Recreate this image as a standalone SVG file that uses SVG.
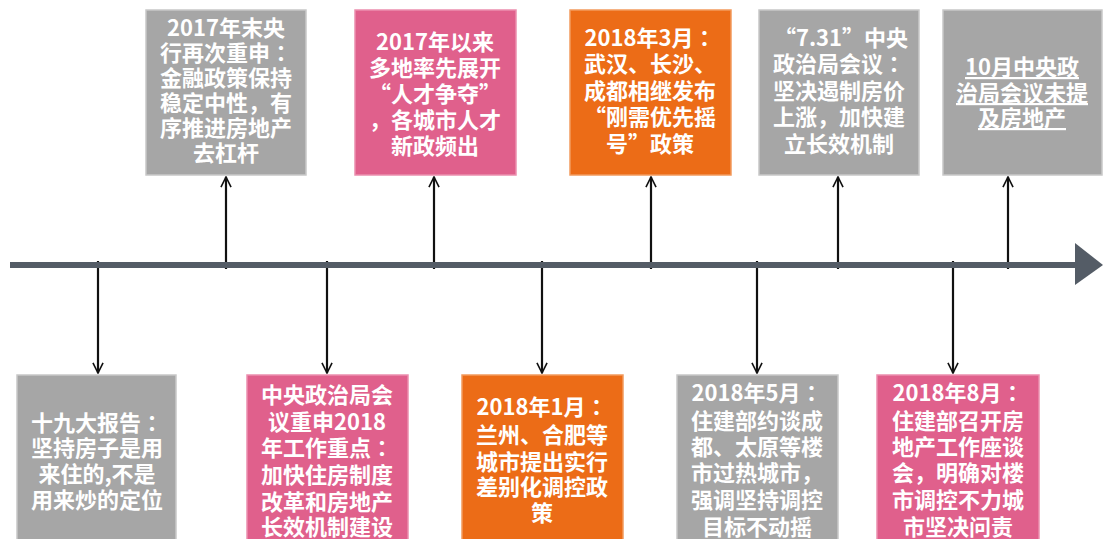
<svg xmlns="http://www.w3.org/2000/svg" width="1112" height="539" viewBox="0 0 1112 539">
<defs>
<style>
.box{stroke-width:1.5}
.gray{fill:#a6a6a6;stroke:#c8c8c8}
.pink{fill:#e0608c;stroke:#eb8fae}
.orange{fill:#ec6c17;stroke:#f29a5e}
.t{font-family:"Noto Sans CJK SC","Noto Sans",sans-serif;font-weight:bold;font-size:22px;fill:#ffffff;text-anchor:middle}
.c{font-family:"Noto Sans CJK TC","Noto Sans CJK SC",sans-serif}
.u{text-decoration:underline}
.conn{stroke:#111;stroke-width:2.2;fill:none}
</style>
<marker id="ah" viewBox="0 0 12 12" refX="11" refY="6" markerWidth="5.5" markerHeight="5.5" orient="auto" markerUnits="strokeWidth">
<path d="M1,1 L11,6 L1,11" fill="none" stroke="#111" stroke-width="1.6"/>
</marker>
</defs>
<rect width="1112" height="539" fill="#ffffff"/>

<g id="connectors">
<line class="conn" x1="226" y1="269" x2="226" y2="177" marker-end="url(#ah)"/>
<line class="conn" x1="434" y1="269" x2="434" y2="177" marker-end="url(#ah)"/>
<line class="conn" x1="651" y1="269" x2="651" y2="177" marker-end="url(#ah)"/>
<line class="conn" x1="838" y1="269" x2="838" y2="177" marker-end="url(#ah)"/>
<line class="conn" x1="1008" y1="269" x2="1008" y2="177" marker-end="url(#ah)"/>
<line class="conn" x1="98" y1="261" x2="98" y2="373" marker-end="url(#ah)"/>
<line class="conn" x1="327" y1="261" x2="327" y2="373" marker-end="url(#ah)"/>
<line class="conn" x1="542" y1="261" x2="542" y2="373" marker-end="url(#ah)"/>
<line class="conn" x1="757" y1="261" x2="757" y2="373" marker-end="url(#ah)"/>
<line class="conn" x1="953" y1="261" x2="953" y2="373" marker-end="url(#ah)"/>
</g>

<g id="axis">
<rect x="10" y="262" width="1067" height="6" fill="#545c66"/>
<polygon points="1075,243 1103,265 1075,285" fill="#545c66"/>
</g>

<g id="top1">
<rect class="box gray" x="146" y="10" width="160" height="165"/>
<text class="t" x="226" y="36">2017年末央</text>
<text class="t" x="226" y="61">行再次重申<tspan class="c">：</tspan></text>
<text class="t" x="226" y="86">金融政策保持</text>
<text class="t" x="226" y="111">稳定中性，有</text>
<text class="t" x="226" y="136">序推进房地产</text>
<text class="t" x="226" y="161">去杠杆</text>
</g>

<g id="top2">
<rect class="box pink" x="355" y="10" width="161" height="165"/>
<text class="t" x="435" y="50">2017年以来</text>
<text class="t" x="435" y="76">多地率先展开</text>
<text class="t" x="435" y="102">“人才争夺”</text>
<text class="t" x="435" y="128">，各城市人才</text>
<text class="t" x="435" y="154">新政频出</text>
</g>

<g id="top3">
<rect class="box orange" x="570" y="10" width="161" height="165"/>
<text class="t" x="650" y="46">2018年3月<tspan class="c">：</tspan></text>
<text class="t" x="650" y="72">武汉、长沙、</text>
<text class="t" x="650" y="99">成都相继发布</text>
<text class="t" x="650" y="125">“刚需优先摇</text>
<text class="t" x="650" y="152">号”政策</text>
</g>

<g id="top4">
<rect class="box gray" x="759" y="10" width="160" height="165"/>
<text class="t" x="841" y="46">“7.31”中央</text>
<text class="t" x="839" y="72">政治局会议<tspan class="c">：</tspan></text>
<text class="t" x="839" y="99">坚决遏制房价</text>
<text class="t" x="839" y="125">上涨，加快建</text>
<text class="t" x="839" y="152">立长效机制</text>
</g>

<g id="top5">
<rect class="box gray" x="943" y="10" width="159" height="165"/>
<text class="t u" x="1022" y="75">10月中央政</text>
<text class="t u" x="1022" y="101">治局会议未提</text>
<text class="t u" x="1022" y="126">及房地产</text>
</g>

<g id="bottom1">
<rect class="box gray" x="17" y="375" width="159" height="170"/>
<text class="t" x="97" y="431">十九大报告<tspan class="c">：</tspan></text>
<text class="t" x="97" y="456">坚持房子是用</text>
<text class="t" x="97" y="482">来住的,不是</text>
<text class="t" x="97" y="508">用来炒的定位</text>
</g>

<g id="bottom2">
<rect class="box pink" x="247" y="375" width="161" height="170"/>
<text class="t" x="327" y="403">中央政治局会</text>
<text class="t" x="327" y="430">议重申2018</text>
<text class="t" x="327" y="456">年工作重点<tspan class="c">：</tspan></text>
<text class="t" x="327" y="483">加快住房制度</text>
<text class="t" x="327" y="510">改革和房地产</text>
<text class="t" x="327" y="535">长效机制建设</text>
</g>

<g id="bottom3">
<rect class="box orange" x="462" y="375" width="161" height="170"/>
<text class="t" x="542" y="415">2018年1月<tspan class="c">：</tspan></text>
<text class="t" x="542" y="443">兰州、合肥等</text>
<text class="t" x="542" y="470">城市提出实行</text>
<text class="t" x="542" y="495">差别化调控政</text>
<text class="t" x="542" y="521">策</text>
</g>

<g id="bottom4">
<rect class="box gray" x="677" y="375" width="161" height="170"/>
<text class="t" x="757" y="401">2018年5月<tspan class="c">：</tspan></text>
<text class="t" x="757" y="429">住建部约谈成</text>
<text class="t" x="757" y="455">都、太原等楼</text>
<text class="t" x="757" y="481">市过热城市，</text>
<text class="t" x="757" y="508">强调坚持调控</text>
<text class="t" x="757" y="535">目标不动摇</text>
</g>

<g id="bottom5">
<rect class="box pink" x="877" y="375" width="162" height="170"/>
<text class="t" x="958" y="401">2018年8月<tspan class="c">：</tspan></text>
<text class="t" x="958" y="429">住建部召开房</text>
<text class="t" x="958" y="455">地产工作座谈</text>
<text class="t" x="958" y="481">会，明确对楼</text>
<text class="t" x="958" y="508">市调控不力城</text>
<text class="t" x="958" y="535">市坚决问责</text>
</g>
</svg>
